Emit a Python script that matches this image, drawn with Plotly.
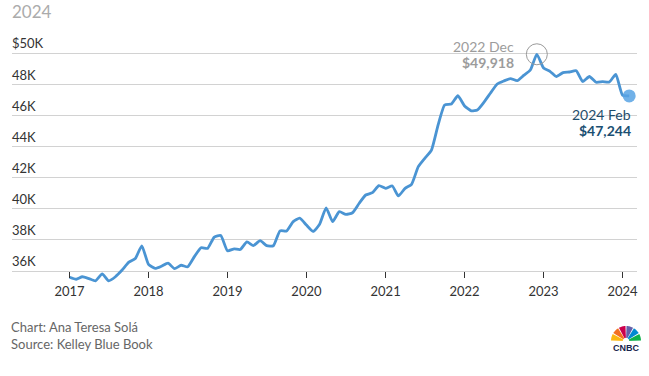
import math
import pandas as pd
import plotly.graph_objects as go

# ---------------- data ----------------
dates = pd.date_range("2017-01-01", "2024-02-01", freq="MS")
price_k = [
    # 2017
    35.60, 35.47, 35.63, 35.51, 35.37, 35.82, 35.37, 35.63, 36.06, 36.55, 36.80, 37.62,
    # 2018
    36.43, 36.17, 36.30, 36.51, 36.15, 36.37, 36.27, 36.92, 37.49, 37.45, 38.18, 38.28,
    # 2019
    37.30, 37.42, 37.38, 37.87, 37.63, 37.95, 37.63, 37.62, 38.58, 38.57, 39.17, 39.39,
    # 2020
    38.95, 38.54, 38.98, 40.05, 39.17, 39.81, 39.64, 39.74, 40.35, 40.88, 41.03, 41.48,
    # 2021
    41.31, 41.46, 40.82, 41.31, 41.57, 42.70, 43.24, 43.77, 45.40, 46.66, 46.72, 47.26,
    # 2022
    46.60, 46.29, 46.34, 46.85, 47.43, 48.01, 48.20, 48.36, 48.22, 48.56, 48.91, 49.918,
    # 2023
    49.04, 48.81, 48.49, 48.74, 48.78, 48.86, 48.17, 48.49, 48.12, 48.16, 48.14, 48.63,
    # 2024
    47.30, 47.244,
]
prices = [round(v * 1000) for v in price_k]

year_ticks = ["2017", "2018", "2019", "2020", "2021", "2022", "2023", "2024"]
y_ticks = [36000, 38000, 40000, 42000, 44000, 46000, 48000, 50000]
y_ticklabels = ["36K", "38K", "40K", "42K", "44K", "46K", "48K", "$50K"]

title_text = "2024"
footer_lines = ["Chart: Ana Teresa Solá", "Source: Kelley Blue Book"]

peak_idx = max(range(len(prices)), key=lambda i: prices[i])
last_idx = len(prices) - 1

# ---------------- layout constants ----------------
W, H = 649, 376
ML, MR, MT, MB = 12, 12, 28, 91
Y_MIN, Y_MAX = 35101, 51606
FONT = "Lato"
LINE_COLOR = "#4a94d3"

def paper_x(px):
    return (px - ML) / (W - ML - MR)

def paper_y(py):
    return (H - MB - py) / (H - MT - MB)

fig = go.Figure()

fig.add_trace(go.Scatter(
    x=dates, y=prices, mode="lines",
    line=dict(color=LINE_COLOR, width=2.8, shape="spline", smoothing=0.5),
    hoverinfo="skip", showlegend=False,
))

# peak ring
fig.add_trace(go.Scatter(
    x=[dates[peak_idx]], y=[prices[peak_idx]], mode="markers",
    marker=dict(symbol="circle-open", size=21, color="#9a9a9a", line=dict(width=1)),
    hoverinfo="skip", showlegend=False, cliponaxis=False,
))
# latest dot
fig.add_trace(go.Scatter(
    x=[dates[last_idx]], y=[prices[last_idx]], mode="markers",
    marker=dict(size=13, color="rgba(88,163,228,0.85)", line=dict(width=0)),
    hoverinfo="skip", showlegend=False, cliponaxis=False,
))

def month_label(d):
    return f"{d.year} {d.strftime('%b')}"

annotations = [
    dict(x=dates[peak_idx], y=prices[peak_idx], xref="x", yref="y",
         text=month_label(dates[peak_idx]), showarrow=False,
         xanchor="right", yanchor="middle", xshift=-21, yshift=8,
         font=dict(family=FONT, size=14, color="#9c9c9c")),
    dict(x=dates[peak_idx], y=prices[peak_idx], xref="x", yref="y",
         text=f"<b>${prices[peak_idx]:,}</b>", showarrow=False,
         xanchor="right", yanchor="middle", xshift=-21, yshift=-8,
         font=dict(family=FONT, size=14, color="#9c9c9c")),
    dict(x=dates[last_idx], y=prices[last_idx], xref="x", yref="y",
         text=month_label(dates[last_idx]), showarrow=False,
         xanchor="right", yanchor="middle", xshift=4, yshift=-19,
         font=dict(family=FONT, size=14, color="#1f4d6b")),
    dict(x=dates[last_idx], y=prices[last_idx], xref="x", yref="y",
         text=f"<b>${prices[last_idx]:,}</b>", showarrow=False,
         xanchor="right", yanchor="middle", xshift=4, yshift=-35,
         font=dict(family=FONT, size=14, color="#1b4f72")),
    dict(x=paper_x(10), y=paper_y(11), xref="paper", yref="paper",
         text=title_text, showarrow=False, xanchor="left", yanchor="middle",
         font=dict(family=FONT, size=17, color="#ababab")),
    dict(x=paper_x(9), y=paper_y(327), xref="paper", yref="paper",
         text=footer_lines[0], showarrow=False, xanchor="left", yanchor="middle",
         font=dict(family=FONT, size=13, color="#666666")),
    dict(x=paper_x(9), y=paper_y(344), xref="paper", yref="paper",
         text=footer_lines[1], showarrow=False, xanchor="left", yanchor="middle",
         font=dict(family=FONT, size=13, color="#666666")),
    dict(x=paper_x(626), y=paper_y(347.5), xref="paper", yref="paper",
         text="<b>CNBC</b>", showarrow=False, xanchor="center", yanchor="middle",
         font=dict(family="Liberation Sans", size=9, color="#17244d")),
]

# CNBC peacock feathers
shapes = []
feather_colors = ["#fcb711", "#f37021", "#cc004c", "#6460aa", "#0089d0", "#0db14b"]
cx, cy, r = 626, 341, 15
for i, col in enumerate(feather_colors):
    a0 = math.radians(180 - i * 30 - 2)
    a1 = math.radians(180 - (i + 1) * 30 + 2)
    pts = [(cx, cy)]
    for k in range(11):
        a = a0 + (a1 - a0) * k / 10
        pts.append((cx + r * math.cos(a), cy - r * math.sin(a)))
    path = "M " + " L ".join(f"{paper_x(px):.5f},{paper_y(py):.5f}" for px, py in pts) + " Z"
    shapes.append(dict(type="path", xref="paper", yref="paper", path=path,
                       fillcolor=col, line=dict(width=0)))
bx = [(cx + 3.2 * math.cos(math.radians(a)), cy - 3.2 * math.sin(math.radians(a))) for a in range(0, 181, 15)]
path = "M " + " L ".join(f"{paper_x(px):.5f},{paper_y(py):.5f}" for px, py in bx) + " Z"
shapes.append(dict(type="path", xref="paper", yref="paper", path=path,
                   fillcolor="white", line=dict(width=0)))

fig.update_layout(
    width=W, height=H,
    margin=dict(l=ML, r=MR, t=MT, b=MB, pad=0, autoexpand=False),
    paper_bgcolor="white", plot_bgcolor="white",
    font=dict(family=FONT, size=13, color="#333333"),
    showlegend=False,
    annotations=annotations,
    shapes=shapes,
    xaxis=dict(
        type="date",
        range=["2016-04-10", "2024-03-08"],
        tickvals=[f"{y}-01-01" for y in year_ticks],
        ticktext=year_ticks,
        ticks="outside", ticklen=6, tickwidth=1, tickcolor="#333333",
        showgrid=False, zeroline=False, showline=False,
        anchor="free",
        position=(y_ticks[0] - Y_MIN) / (Y_MAX - Y_MIN),
        tickfont=dict(family=FONT, size=13, color="#333333"),
        ticklabelstandoff=2,
        automargin=False,
        fixedrange=True,
    ),
    yaxis=dict(
        range=[Y_MIN, Y_MAX],
        tickvals=y_ticks, ticktext=y_ticklabels,
        ticklabelposition="inside top",
        ticklabelstandoff=-3,
        showgrid=True, gridcolor="#d2d2d2", gridwidth=1,
        zeroline=False, showline=False, ticks="",
        tickfont=dict(family=FONT, size=13, color="#333333"),
        automargin=False,
        fixedrange=True,
    ),
)

fig.write_html(
    "out.html",
    config={"displayModeBar": False, "staticPlot": True},
    post_script="document.body.style.margin='0';document.body.style.padding='0';document.body.style.overflow='hidden';",
)
